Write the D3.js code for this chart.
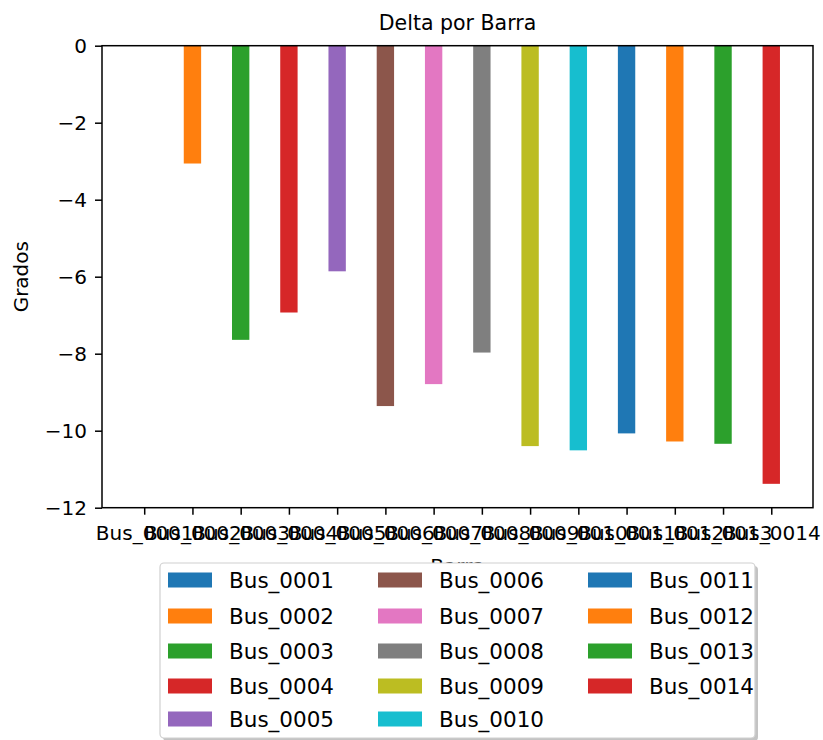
<!DOCTYPE html>
<html><head><meta charset="utf-8">
<script src="https://cdn.jsdelivr.net/npm/d3@7"></script>
<style>body{margin:0;background:#fff}svg{display:block}text{font-family:"DejaVu Sans",sans-serif;fill:#000}</style>
</head><body><svg id="c" width="823" height="740"></svg>
<script>
const categories = ["Bus_0001","Bus_0002","Bus_0003","Bus_0004","Bus_0005","Bus_0006","Bus_0007","Bus_0008","Bus_0009","Bus_0010","Bus_0011","Bus_0012","Bus_0013","Bus_0014"];
const values = [0, -3.06, -7.64, -6.93, -5.86, -9.36, -8.79, -7.97, -10.40, -10.51, -10.07, -10.28, -10.34, -11.38];
const yTicks = [0, -2, -4, -6, -8, -10, -12];
const colors = ["#1f77b4","#ff7f0e","#2ca02c","#d62728","#9467bd","#8c564b","#e377c2","#7f7f7f","#bcbd22","#17becf","#1f77b4","#ff7f0e","#2ca02c","#d62728"];
const title = "Delta por Barra", xLabel = "Barra", yLabel = "Grados";

const svg = d3.select("#c");
const L = 102, R = 813, T = 45.7, B = 507.7;
const x = d3.scaleLinear().domain([-0.875, categories.length - 1 + 0.865]).range([L, R]);
const y = d3.scaleLinear().domain([-12, 0]).range([B, T]);
const bw = x(0.36) - x(0);

// bars
svg.append("g").selectAll("rect").data(values).join("rect")
  .attr("x", (d, i) => x(i) - bw / 2)
  .attr("y", d => y(Math.max(0, d)))
  .attr("width", bw)
  .attr("height", d => Math.abs(y(d) - y(0)))
  .attr("fill", (d, i) => colors[i]);

// axes
const fs = 20;
const yAxis = d3.axisLeft(y).tickValues(yTicks).tickSize(7).tickPadding(7)
  .tickFormat(d => d3.format("d")(d).replace("-", "\u2212"));
const gy = svg.append("g").attr("transform", `translate(${L},0)`).call(yAxis);
const xAxis = d3.axisBottom(x).tickValues(d3.range(categories.length)).tickSize(7).tickPadding(11)
  .tickFormat(i => categories[i]);
const gx = svg.append("g").attr("transform", `translate(0,${B})`).call(xAxis);
[gx, gy].forEach(g => {
  g.select(".domain").remove();
  g.selectAll("line").attr("stroke", "#000").attr("stroke-width", 1.5);
  g.selectAll("text").attr("font-size", fs).attr("font-family", "DejaVu Sans").attr("fill", "#000");
});
gy.selectAll("text").attr("x", -15);

// frame
svg.append("rect").attr("x", L).attr("y", T).attr("width", R - L).attr("height", B - T)
  .attr("fill", "none").attr("stroke", "#000").attr("stroke-width", 1.5);

// labels
svg.append("text").attr("x", (L + R) / 2).attr("y", 30).attr("text-anchor", "middle")
  .attr("font-size", 20.5).text(title);
svg.append("text").attr("x", (L + R) / 2).attr("y", 573).attr("text-anchor", "middle")
  .attr("font-size", fs).text(xLabel);
svg.append("text").attr("transform", `translate(28,${(T + B) / 2}) rotate(-90)`)
  .attr("text-anchor", "middle").attr("font-size", fs).text(yLabel);

// legend
const lg = svg.append("g");
const lx0 = 160, ly0 = 563, lw = 595, lh = 175;
lg.append("rect").attr("x", lx0 + 3).attr("y", ly0 + 3).attr("width", lw).attr("height", lh)
  .attr("rx", 4).attr("fill", "#888").attr("opacity", 0.5);
lg.append("rect").attr("x", lx0).attr("y", ly0).attr("width", lw).attr("height", lh)
  .attr("rx", 4).attr("fill", "#fff").attr("stroke", "#d0d0d0").attr("stroke-width", 1.2);
const colX = [168, 378, 588], rowY = [580, 616, 651, 686, 719];
categories.forEach((c, i) => {
  const col = Math.floor(i / 5), row = i % 5;
  lg.append("rect").attr("x", colX[col]).attr("y", rowY[row] - 7.5).attr("width", 44).attr("height", 15)
    .attr("fill", colors[i]);
  lg.append("text").attr("x", colX[col] + 61).attr("y", rowY[row]).attr("dy", "0.36em")
    .attr("font-size", 21.5).text(c);
});
</script></body></html>
